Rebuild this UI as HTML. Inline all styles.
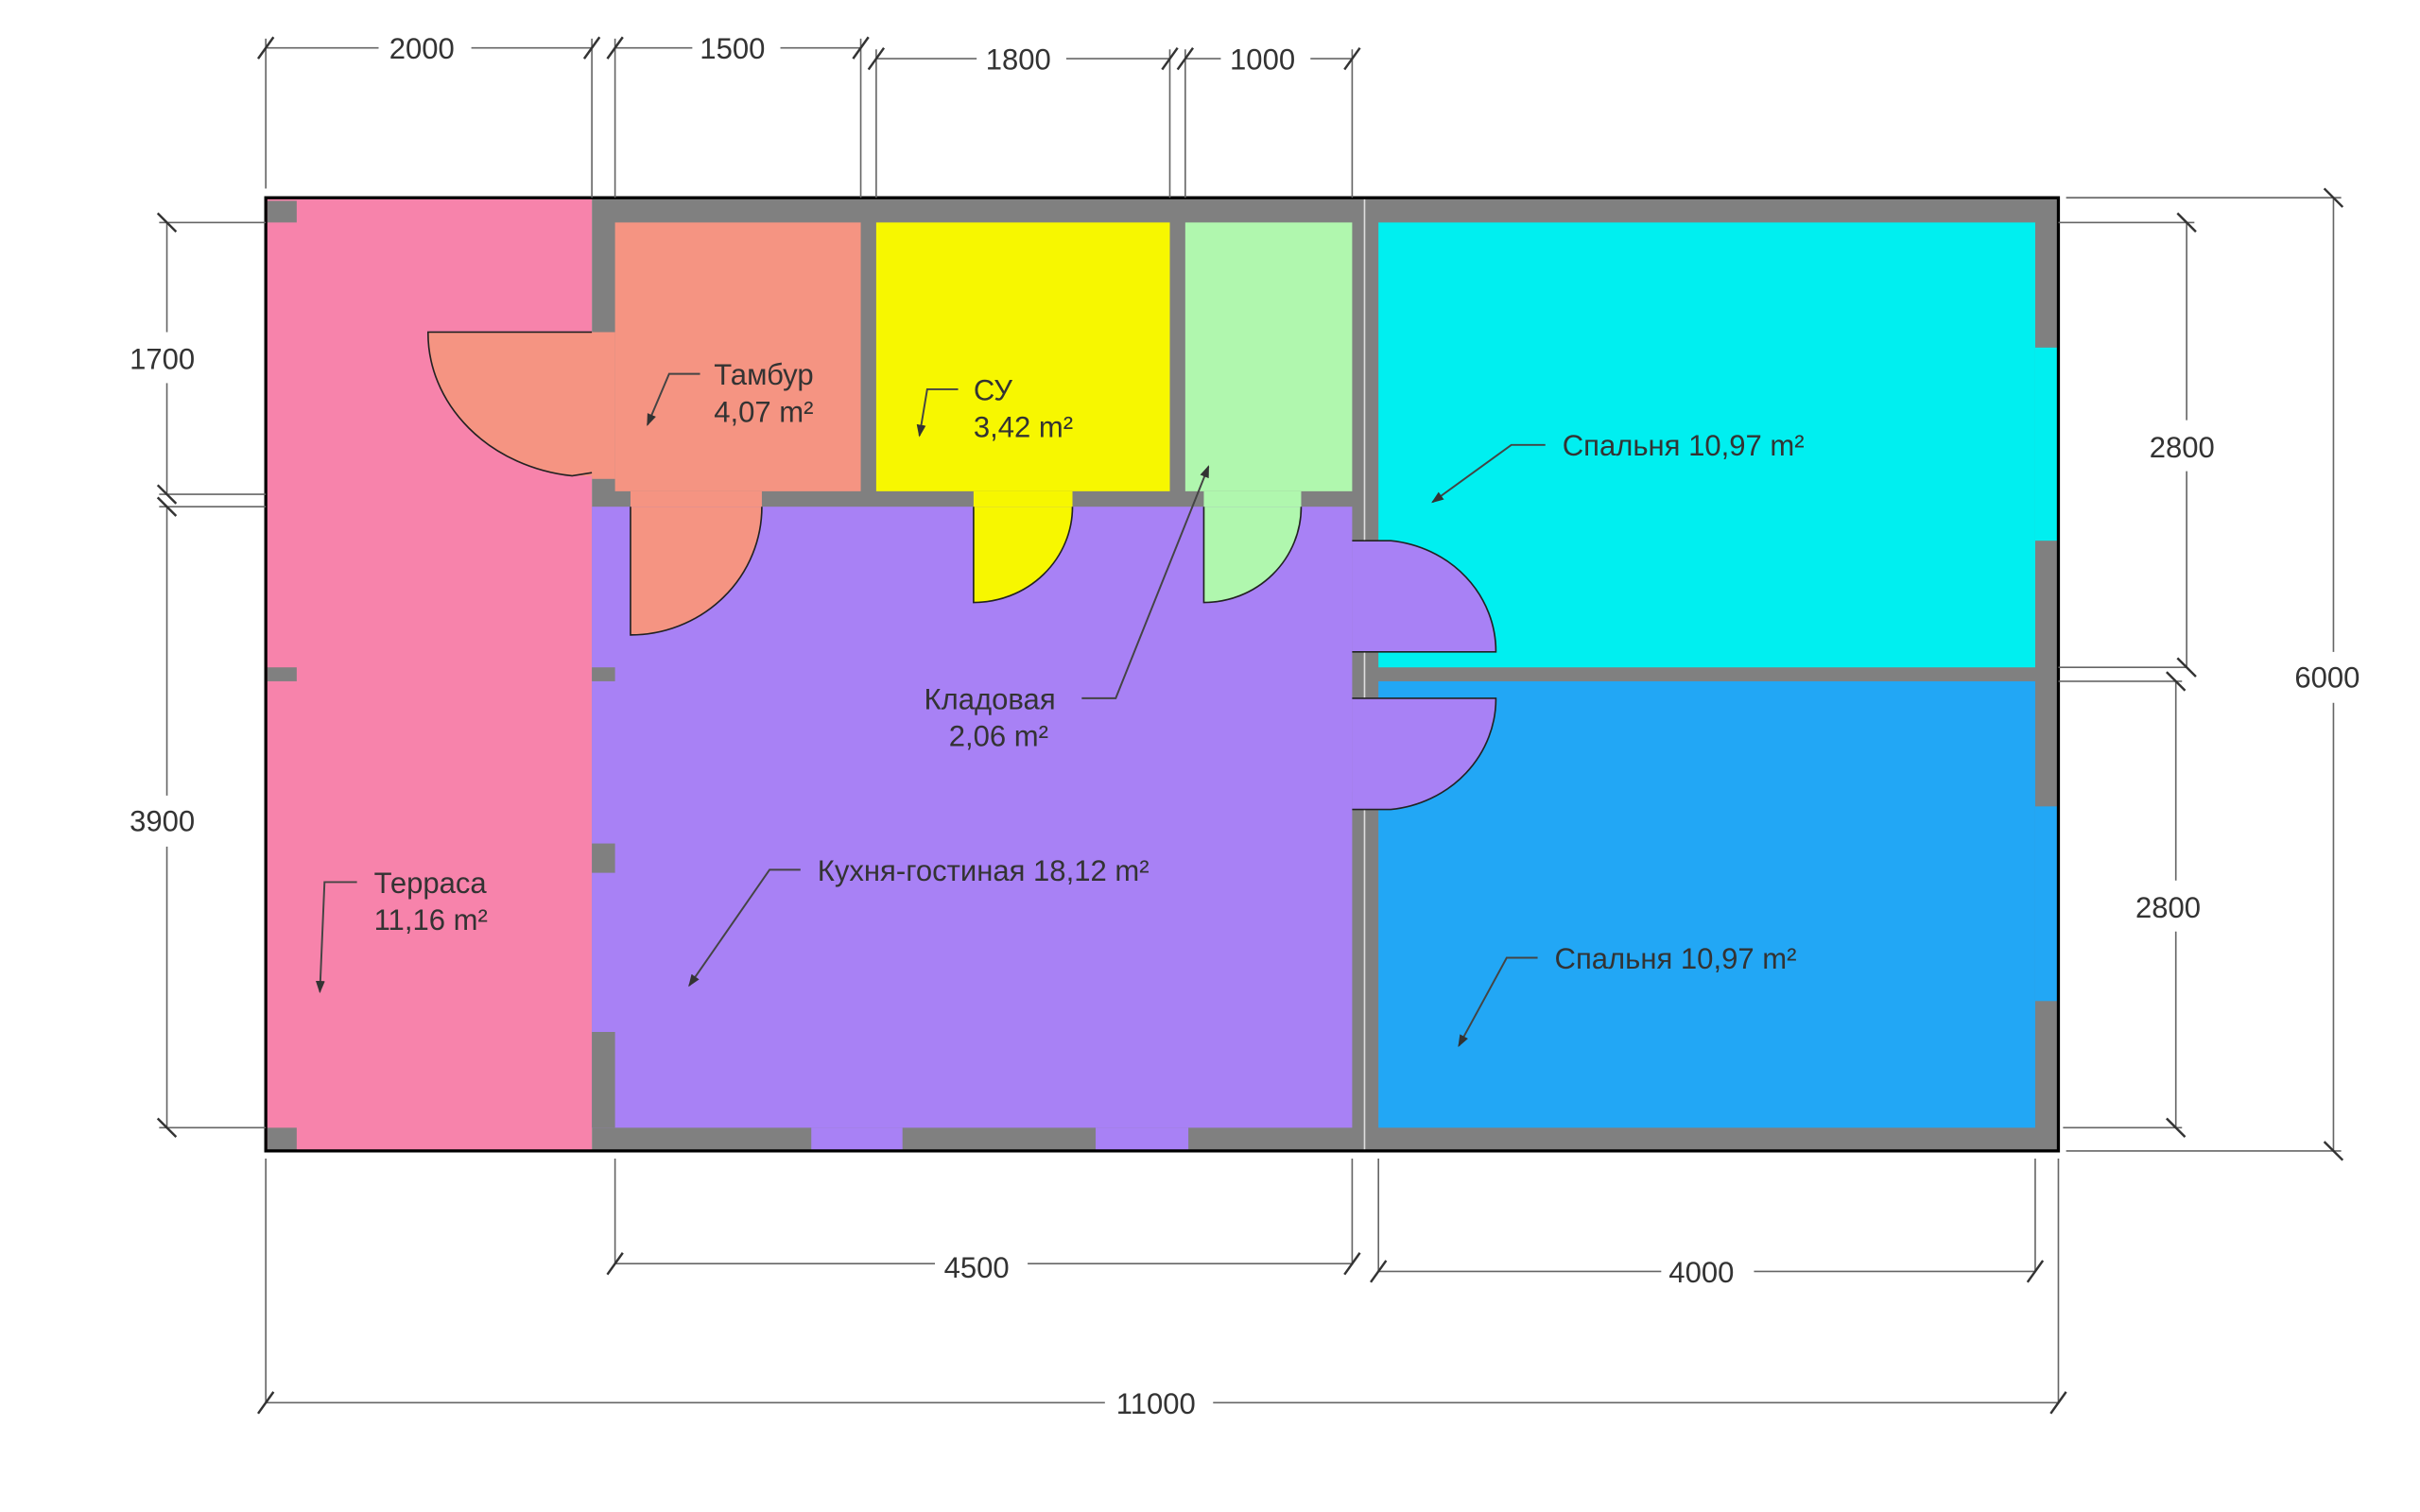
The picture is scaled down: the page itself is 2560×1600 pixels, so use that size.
<!DOCTYPE html>
<html><head><meta charset="utf-8"><style>
html,body{margin:0;padding:0;background:#fff;width:2560px;height:1600px;overflow:hidden}
svg{display:block}
text{font-family:"Liberation Sans","DejaVu Sans",sans-serif;font-size:19px;fill:#333}
</style></head><body>
<svg width="2560" height="1600" viewBox="0 0 1566 978.75" preserveAspectRatio="none" xmlns="http://www.w3.org/2000/svg">
<defs><marker id="ar" markerWidth="8" markerHeight="8" refX="7" refY="4" orient="auto" markerUnits="userSpaceOnUse"><path d="M0,1 L8,4 L0,7 Z" fill="#333"/></marker></defs>
<rect x="383" y="128" width="949" height="617" fill="#808080"/>
<rect x="172" y="128" width="211" height="617" fill="#F783AB"/>
<rect x="173" y="130" width="19" height="14" fill="#808080"/>
<rect x="173" y="432" width="19" height="9" fill="#808080"/>
<rect x="173" y="730" width="19" height="15" fill="#808080"/>
<rect x="398" y="144" width="159" height="174" fill="#F59482"/>
<rect x="567" y="144" width="190" height="174" fill="#F7F700"/>
<rect x="767" y="144" width="108" height="174" fill="#B0F7AE"/>
<rect x="892" y="144" width="425" height="288" fill="#00EFF0"/>
<rect x="892" y="441" width="425" height="289" fill="#22A7F5"/>
<rect x="383" y="328" width="492" height="402" fill="#A881F5"/>
<rect x="383" y="432" width="15" height="9" fill="#808080"/>
<rect x="383" y="546" width="15" height="19" fill="#808080"/>
<rect x="383" y="668" width="15" height="62" fill="#808080"/>
<rect x="383" y="215" width="15" height="95" fill="#F59482"/>
<rect x="525" y="730" width="59" height="15" fill="#A881F5"/>
<rect x="709" y="730" width="60" height="15" fill="#A881F5"/>
<rect x="1317" y="225" width="15" height="125" fill="#00EFF0"/>
<rect x="1317" y="522" width="15" height="126" fill="#22A7F5"/>
<rect x="875" y="350" width="17" height="72" fill="#A881F5"/>
<rect x="875" y="452" width="17" height="72" fill="#A881F5"/>
<rect x="408" y="318" width="85" height="10" fill="#F59482"/>
<rect x="630" y="318" width="64" height="10" fill="#F7F700"/>
<rect x="779" y="318" width="63" height="10" fill="#B0F7AE"/>
<line x1="883" y1="128" x2="883" y2="745" stroke="#ddd" stroke-width="1"/>
<!-- doors -->
<path d="M384,215 L277,215 A106,93 0 0 0 370,308 L384,308 Z" fill="#F59482"/>
<path d="M383,215 L277,215 A106,93 0 0 0 370,308 L383,306" fill="none" stroke="#222" stroke-width="1"/>
<path d="M408,328 L408,411 A85,83 0 0 0 493,328" fill="#F59482" stroke="#222" stroke-width="1"/>
<path d="M630,328 L630,390 A64,62 0 0 0 694,328" fill="#F7F700" stroke="#222" stroke-width="1"/>
<path d="M779,328 L779,390 A63,62 0 0 0 842,328" fill="#B0F7AE" stroke="#222" stroke-width="1"/>
<path d="M875,422 L968,422 A76,72 0 0 0 900,350 L875,350" fill="#A881F5" stroke="#222" stroke-width="1"/>
<path d="M875,452 L968,452 A76,72 0 0 1 900,524 L875,524" fill="#A881F5" stroke="#222" stroke-width="1"/>
<rect x="172" y="128" width="1160" height="617" fill="none" stroke="#000" stroke-width="2"/>
<g stroke="#666" stroke-width="1" fill="none">
<line x1="172" y1="25" x2="172" y2="122"/><line x1="383" y1="25" x2="383" y2="128"/>
<line x1="398" y1="25" x2="398" y2="128"/><line x1="557" y1="25" x2="557" y2="128"/>
<line x1="567" y1="32" x2="567" y2="128"/><line x1="757" y1="32" x2="757" y2="128"/>
<line x1="767" y1="32" x2="767" y2="128"/><line x1="875" y1="32" x2="875" y2="128"/>
<line x1="172" y1="31" x2="245" y2="31"/><line x1="305" y1="31" x2="383" y2="31"/>
<line x1="398" y1="31" x2="448" y2="31"/><line x1="505" y1="31" x2="557" y2="31"/>
<line x1="567" y1="38" x2="632" y2="38"/><line x1="690" y1="38" x2="757" y2="38"/>
<line x1="767" y1="38" x2="790" y2="38"/><line x1="848" y1="38" x2="875" y2="38"/>
<line x1="103" y1="144" x2="172" y2="144"/><line x1="103" y1="320" x2="172" y2="320"/><line x1="103" y1="328" x2="172" y2="328"/><line x1="103" y1="730" x2="172" y2="730"/>
<line x1="108" y1="144" x2="108" y2="215"/><line x1="108" y1="248" x2="108" y2="320"/>
<line x1="108" y1="328" x2="108" y2="515"/><line x1="108" y1="548" x2="108" y2="730"/>
<line x1="1337" y1="128" x2="1515" y2="128"/><line x1="1337" y1="745" x2="1515" y2="745"/>
<line x1="1332" y1="144" x2="1420" y2="144"/><line x1="1332" y1="432" x2="1415" y2="432"/><line x1="1332" y1="441" x2="1412" y2="441"/><line x1="1335" y1="730" x2="1412" y2="730"/>
<line x1="1510" y1="128" x2="1510" y2="422"/><line x1="1510" y1="455" x2="1510" y2="745"/>
<line x1="1415" y1="144" x2="1415" y2="272"/><line x1="1415" y1="305" x2="1415" y2="432"/>
<line x1="1408" y1="441" x2="1408" y2="570"/><line x1="1408" y1="603" x2="1408" y2="730"/>
<line x1="398" y1="750" x2="398" y2="818"/><line x1="875" y1="750" x2="875" y2="818"/>
<line x1="892" y1="750" x2="892" y2="823"/><line x1="1317" y1="750" x2="1317" y2="823"/>
<line x1="172" y1="750" x2="172" y2="908"/><line x1="1332" y1="750" x2="1332" y2="908"/>
<line x1="398" y1="818" x2="605" y2="818"/><line x1="665" y1="818" x2="875" y2="818"/>
<line x1="892" y1="823" x2="1075" y2="823"/><line x1="1135" y1="823" x2="1317" y2="823"/>
<line x1="172" y1="908" x2="715" y2="908"/><line x1="785" y1="908" x2="1332" y2="908"/>
</g>
<g stroke="#333" stroke-width="1.5">
<line x1="167" y1="38" x2="177" y2="24"/><line x1="378" y1="38" x2="388" y2="24"/><line x1="393" y1="38" x2="403" y2="24"/><line x1="552" y1="38" x2="562" y2="24"/>
<line x1="562" y1="45" x2="572" y2="31"/><line x1="752" y1="45" x2="762" y2="31"/><line x1="762" y1="45" x2="772" y2="31"/><line x1="870" y1="45" x2="880" y2="31"/>
<line x1="102" y1="138" x2="114" y2="150"/><line x1="102" y1="314" x2="114" y2="326"/><line x1="102" y1="322" x2="114" y2="334"/><line x1="102" y1="724" x2="114" y2="736"/>
<line x1="1504" y1="122" x2="1516" y2="134"/><line x1="1504" y1="739" x2="1516" y2="751"/>
<line x1="1409" y1="138" x2="1421" y2="150"/><line x1="1409" y1="426" x2="1421" y2="438"/>
<line x1="1402" y1="435" x2="1414" y2="447"/><line x1="1402" y1="724" x2="1414" y2="736"/>
<line x1="393" y1="825" x2="403" y2="811"/><line x1="870" y1="825" x2="880" y2="811"/>
<line x1="887" y1="830" x2="897" y2="816"/><line x1="1312" y1="830" x2="1322" y2="816"/>
<line x1="167" y1="915" x2="177" y2="901"/><line x1="1327" y1="915" x2="1337" y2="901"/>
</g>
<g text-anchor="middle">
<text x="273" y="38">2000</text><text x="474" y="38">1500</text><text x="659" y="45">1800</text><text x="817" y="45">1000</text>
<text x="105" y="239">1700</text><text x="105" y="538">3900</text>
<text x="1412" y="296">2800</text><text x="1403" y="594">2800</text><text x="1506" y="445">6000</text>
<text x="632" y="827">4500</text><text x="1101" y="830">4000</text><text x="748" y="915">11000</text>
</g>
<g stroke="#444" stroke-width="1.2" fill="none" marker-end="url(#ar)">
<polyline points="453,242 433,242 419,275"/>
<polyline points="620,252 600,252 595,282"/>
<polyline points="1000,288 978,288 927,325"/>
<polyline points="700,452 722,452 782,302"/>
<polyline points="518,563 498,563 446,638"/>
<polyline points="231,571 210,571 207,642"/>
<polyline points="995,620 975,620 944,677"/>
</g>
<text x="462" y="249">Тамбур</text><text x="462" y="273">4,07 m²</text>
<text x="630" y="259">СУ</text><text x="630" y="283">3,42 m²</text>
<text x="1011" y="295">Спальня 10,97 m²</text>
<text x="598" y="459">Кладовая</text><text x="614" y="483">2,06 m²</text>
<text x="529" y="570">Кухня-гостиная 18,12 m²</text>
<text x="242" y="578">Терраса</text><text x="242" y="602">11,16 m²</text>
<text x="1006" y="627">Спальня 10,97 m²</text>
</svg>
</body></html>
